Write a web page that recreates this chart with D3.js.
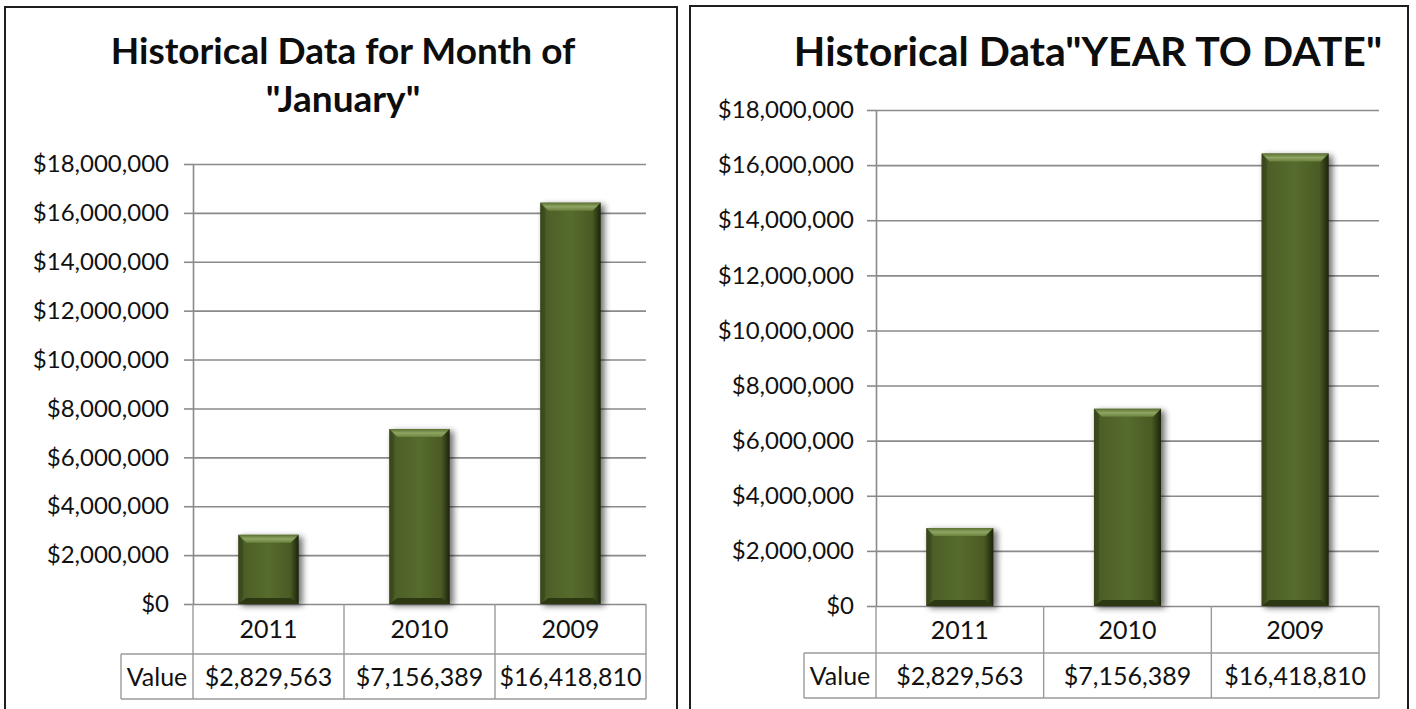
<!DOCTYPE html>
<html lang="en">
<head>
<meta charset="UTF-8">
<title>Historical Data</title>
<style>
  body { margin: 0; background: #fff; font-family: Lato, "Open Sans", sans-serif; }
  svg { display: block; }
</style>
<script src="https://d3js.org/d3.v7.min.js"></script>
</head>
<body>
<script>
// chart data
var years = ["2011", "2010", "2009"];
var januaryValues = [2829563, 7156389, 16418810];
var ytdValues = [2829563, 7156389, 16418810];
var yTickValues = [0, 2000000, 4000000, 6000000, 8000000, 10000000, 12000000, 14000000, 16000000, 18000000];
var rowLabel = "Value";

var W = 1416, H = 709;
var money = d3.format("$,");

var svg = d3.select("body").append("svg").attr("width", W).attr("height", H);
var defs = svg.append("defs");

// bar face / bevel gradients
var face = defs.append("linearGradient").attr("id", "face").attr("x1", 0).attr("x2", 1).attr("y1", 0).attr("y2", 0);
[[0, "#34411a"], [0.1, "#4d5f27"], [0.5, "#566b2d"], [0.86, "#4a5b24"], [1, "#1b230a"]].forEach(function (s) {
    face.append("stop").attr("offset", s[0]).attr("stop-color", s[1]);
});
var topBev = defs.append("linearGradient").attr("id", "topBev").attr("x1", 0).attr("x2", 0).attr("y1", 0).attr("y2", 1);
topBev.append("stop").attr("offset", 0).attr("stop-color", "#5c7131");
topBev.append("stop").attr("offset", 0.5).attr("stop-color", "#8ea564");
topBev.append("stop").attr("offset", 1).attr("stop-color", "#6a803c");
var shadow = defs.append("filter").attr("id", "shadow").attr("x", "-30%").attr("y", "-10%").attr("width", "160%").attr("height", "130%");
shadow.append("feGaussianBlur").attr("stdDeviation", 3);

function drawPanel(cfg, values) {
    var g = svg.append("g");

    // frame
    g.append("rect")
        .attr("x", cfg.frame[0]).attr("y", cfg.frame[1])
        .attr("width", cfg.frame[2] - cfg.frame[0]).attr("height", H + 20)
        .attr("fill", "#fff").attr("stroke", "#1e1e1e").attr("stroke-width", 2);

    // title
    cfg.title.forEach(function (t) {
        g.append("text")
            .attr("x", cfg.titleX).attr("y", t.y)
            .attr("text-anchor", "middle")
            .style("font-size", cfg.titleSize + "px")
            .style("font-weight", "bold")
            .attr("fill", "#0d0d0d")
            .text(t.text);
    });

    var x = d3.scaleBand().domain(years).range([cfg.x0, cfg.x1]).paddingInner(0.6).paddingOuter(0.3);
    var cols = d3.scaleBand().domain(years).range([cfg.x0, cfg.x1]);
    var y = d3.scaleLinear().domain([0, 18000000]).range([cfg.y0, cfg.yTop]);

    // grid
    var grid = g.append("g").attr("transform", "translate(" + cfg.x0 + ",0)")
        .call(d3.axisLeft(y).tickValues(yTickValues).tickSize(-(cfg.x1 - cfg.x0)).tickFormat(""));
    grid.select(".domain").remove();
    grid.selectAll("line").attr("stroke", "#8a8a8a").attr("stroke-width", 1.6);

    // y axis with outside ticks
    var ax = g.append("g").attr("transform", "translate(" + cfg.x0 + ",0)")
        .call(d3.axisLeft(y).tickValues(yTickValues).tickSize(9).tickSizeOuter(0).tickPadding(cfg.tickPad).tickFormat(money));
    ax.select(".domain").attr("stroke", "#8a8a8a").attr("stroke-width", 1.6);
    ax.selectAll("line").attr("stroke", "#8a8a8a").attr("stroke-width", 1.6);
    ax.selectAll("text")
        .style("font-family", "Lato, sans-serif")
        .style("font-size", cfg.tickSize + "px")
        .attr("fill", "#111");

    // bars
    var b = 8;
    values.forEach(function (v, i) {
        var bx = x(years[i]), bw = x.bandwidth(), by = y(v), bh = cfg.y0 - y(v);
        g.append("rect").attr("x", bx + 3).attr("y", by + 2).attr("width", bw + 1).attr("height", bh)
            .attr("fill", "#000").attr("opacity", 0.55).attr("filter", "url(#shadow)");
        g.append("rect").attr("x", bx).attr("y", by).attr("width", bw).attr("height", bh).attr("fill", "url(#face)");
        g.append("polygon")
            .attr("points", [[bx, by], [bx + bw, by], [bx + bw - b, by + b], [bx + b, by + b]].join(" "))
            .attr("fill", "url(#topBev)");
        g.append("polygon")
            .attr("points", [[bx, by + bh], [bx + b, by + bh - b + 2], [bx + bw - b, by + bh - b + 2], [bx + bw, by + bh]].join(" "))
            .attr("fill", "#2c3812");
        g.append("polygon")
            .attr("points", [[bx, by], [bx + 5, by + b], [bx + 5, by + bh - b], [bx, by + bh]].join(" "))
            .attr("fill", "#3a4a1b").attr("opacity", 0.6);
    });

    // data table
    var lc = "#9a9a9a";
    var t = g.append("g");
    cols.domain().forEach(function (c) {
        t.append("line").attr("x1", cols(c) + cols.bandwidth()).attr("x2", cols(c) + cols.bandwidth())
            .attr("y1", cfg.y0).attr("y2", cfg.tableBottom).attr("stroke", lc).attr("stroke-width", 1.4);
    });
    t.append("line").attr("x1", cfg.x0).attr("x2", cfg.x0).attr("y1", cfg.y0).attr("y2", cfg.tableBottom)
        .attr("stroke", lc).attr("stroke-width", 1.4);
    t.append("line").attr("x1", cfg.valueLeft).attr("x2", cfg.valueLeft).attr("y1", cfg.rowDiv).attr("y2", cfg.tableBottom)
        .attr("stroke", lc).attr("stroke-width", 1.4);
    [cfg.rowDiv, cfg.tableBottom].forEach(function (ly) {
        t.append("line").attr("x1", cfg.valueLeft).attr("x2", cfg.x1).attr("y1", ly).attr("y2", ly)
            .attr("stroke", lc).attr("stroke-width", 1.4);
    });

    var r1 = (cfg.y0 + cfg.rowDiv) / 2, r2 = (cfg.rowDiv + cfg.tableBottom) / 2;
    years.forEach(function (c, i) {
        var cx = cols(c) + cols.bandwidth() / 2;
        t.append("text").attr("x", cx).attr("y", r1).attr("dy", "0.36em").attr("text-anchor", "middle")
            .style("font-size", cfg.cellSize + "px").attr("fill", "#111").text(c);
        t.append("text").attr("x", cx).attr("y", r2).attr("dy", "0.36em").attr("text-anchor", "middle")
            .style("font-size", cfg.cellSize + "px").attr("fill", "#111").text(money(values[i]));
    });
    t.append("text").attr("x", (cfg.valueLeft + cfg.x0) / 2).attr("y", r2).attr("dy", "0.36em").attr("text-anchor", "middle")
        .style("font-size", cfg.cellSize + "px").attr("fill", "#111").text(rowLabel);
}

drawPanel({
    frame: [5, 7, 677],
    title: [{ text: "Historical Data for Month of", y: 64 }, { text: "\"January\"", y: 112 }],
    titleX: 343, titleSize: 37,
    x0: 193, x1: 646, yTop: 164, y0: 604,
    rowDiv: 654, tableBottom: 699, valueLeft: 121,
    tickSize: 24, tickPad: 15, cellSize: 25
}, januaryValues);

drawPanel({
    frame: [690, 6, 1408],
    title: [{ text: "Historical Data\"YEAR TO DATE\"", y: 66 }],
    titleX: 1088, titleSize: 41,
    x0: 876, x1: 1379, yTop: 110, y0: 606,
    rowDiv: 653, tableBottom: 698, valueLeft: 804,
    tickSize: 24, tickPad: 13, cellSize: 25
}, ytdValues);
</script>
</body>
</html>
